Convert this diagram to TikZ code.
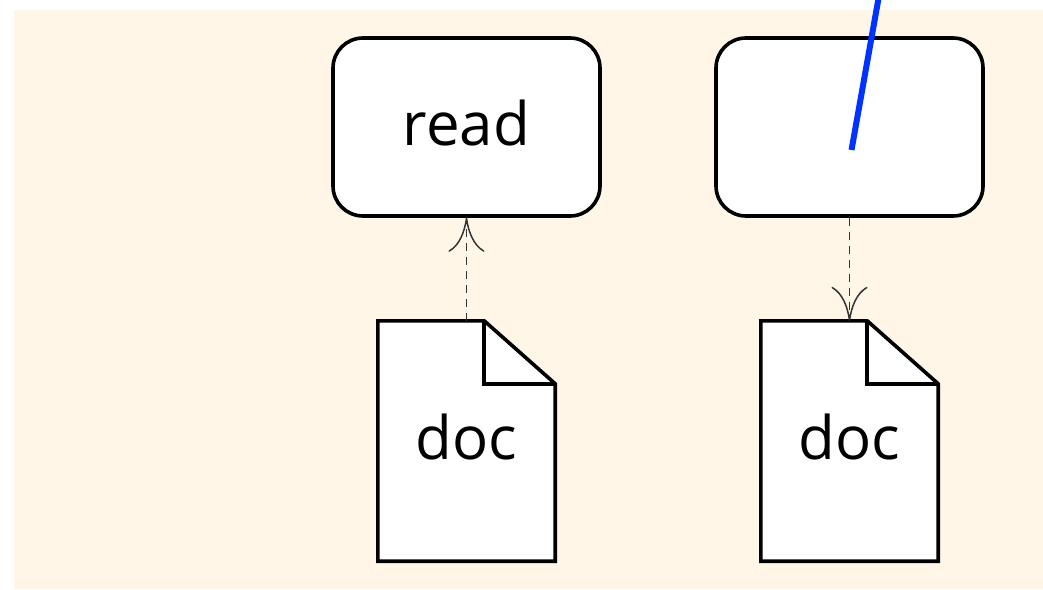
\documentclass[tikz,border=0pt]{standalone}
\usepackage{fontspec}
\setmainfont{Open Sans}
\usetikzlibrary{arrows.meta}
\definecolor{paper}{HTML}{FFF6E8}
\definecolor{wire}{HTML}{0033FF}
\definecolor{flow}{HTML}{333333}
\tikzset{
  action/.style={draw=black, fill=white, line width=3.6pt, rounded corners=30pt,
    minimum width=267pt, minimum height=178pt, inner sep=0pt},
  docbody/.style={minimum width=177pt, minimum height=240pt, inner sep=0pt},
  label/.style={inner sep=0pt, font=\fontsize{60}{62}\selectfont},
  docline/.style={draw=black, fill=white, line width=3.6pt, line join=miter},
  dataflow/.style={draw=flow, line width=1.5pt, dash pattern=on 8pt off 6pt,
    -{Computer Modern Rightarrow[length=34pt,width=36pt,line width=1.5pt]}},
}
\newcommand{\docshape}[1]{%
  \path[docline] (#1.north west) -- ([xshift=-71pt]#1.north east)
    -- ([yshift=-63pt]#1.north east) -- (#1.south east)
    -- (#1.south west) -- cycle;
  \draw[docline, fill=none] ([xshift=-71pt]#1.north east)
    -- ([xshift=-71pt,yshift=-63pt]#1.north east)
    -- ([yshift=-63pt]#1.north east);
}
\begin{document}
\begin{tikzpicture}[x=1pt, y=-1pt]
  \useasboundingbox (0,0) rectangle (1043,589);
  \fill[paper] (14,10) rectangle (1043,589);

  % action boxes
  \node[action] (read) at (466.5,127) {};
  \node[label] at (466.5,123) {read};
  \node[action] (write) at (849.5,127) {};

  % documents
  \node[docbody] (docA) at (466.5,441) {};
  \docshape{docA}
  \node[label] at (466.5,437) {doc};
  \node[docbody] (docB) at (849.5,441) {};
  \docshape{docB}
  \node[label] at (849.5,437) {doc};

  % data flows
  \draw[dataflow] (docA.north) -- (read.south);
  \draw[dataflow] (write.south) -- (docB.north);

  % wire leaving the top
  \coordinate (wireIn) at (851.5,150);
  \coordinate (wireOut) at (880,-10);
  \begin{scope}
    \clip (0,0) rectangle (1043,589);
    \draw[wire, line width=6pt] (wireIn) -- (wireOut);
  \end{scope}
\end{tikzpicture}
\end{document}
